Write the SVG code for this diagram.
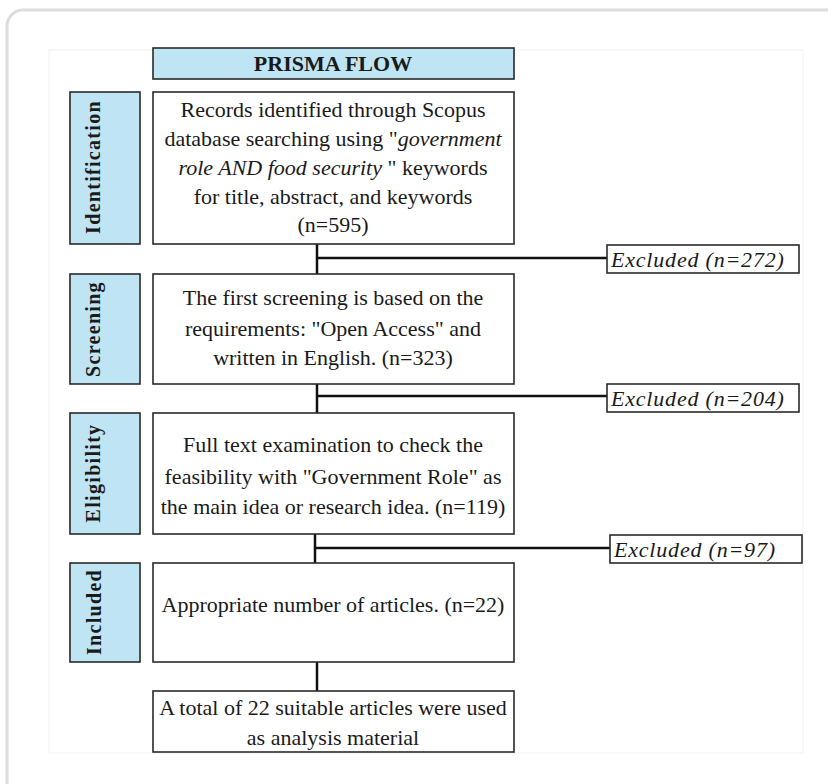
<svg xmlns="http://www.w3.org/2000/svg" width="828" height="784" viewBox="0 0 828 784">
<style>
.card{fill:#fff;stroke:#dcdcdc;stroke-width:3}
.frame{fill:none;stroke:#f2f2f2;stroke-width:1}
.box{fill:#fff;stroke:#2a2a2a;stroke-width:1.6}
.blue{fill:#bfe4f3;stroke:#2a2a2a;stroke-width:1.6}
.t{font-family:"Liberation Serif","Times New Roman",serif;font-size:22px;fill:#1a1a1a;text-anchor:middle}
.i{font-style:italic}
.side{font-family:"Liberation Serif","Times New Roman",serif;font-size:20px;font-weight:bold;fill:#1a1a1a;text-anchor:middle;letter-spacing:1.3px}
.ex{font-family:"Liberation Serif","Times New Roman",serif;font-size:22px;font-style:italic;fill:#1a1a1a;letter-spacing:0.8px}
.ln{stroke:#111;stroke-width:2.5;fill:none}
</style>
<rect class="card" x="7" y="10" width="860" height="800" rx="16"/>
<rect class="frame" x="49" y="50" width="754" height="703"/>
<g id="title">
<rect class="blue" x="153" y="48" width="361" height="31"/>
<text class="t" x="333" y="71" font-weight="bold">PRISMA FLOW</text>
</g>
<g id="side-identification">
<rect class="blue" x="70" y="92" width="70" height="152"/>
<text class="side" transform="translate(100,167) rotate(-90)">Identification</text>
</g>
<g id="side-screening">
<rect class="blue" x="70" y="274" width="70" height="110"/>
<text class="side" transform="translate(100,329) rotate(-90)">Screening</text>
</g>
<g id="side-eligibility">
<rect class="blue" x="70" y="413" width="70" height="121"/>
<text class="side" transform="translate(100,473) rotate(-90)">Eligibility</text>
</g>
<g id="side-included">
<rect class="blue" x="70" y="563" width="70" height="99"/>
<text class="side" transform="translate(101,612) rotate(-90)">Included</text>
</g>
<g id="connectors">
<path class="ln" d="M317,244 V274 M317,258 H607"/>
<path class="ln" d="M317,384 V413 M317,396 H607"/>
<path class="ln" d="M315,534 V563 M315,548 H610"/>
<path class="ln" d="M317,662 V691" stroke-width="3.5"/>
</g>
<g id="records">
<rect class="box" x="153" y="92" width="361" height="152"/>
<text class="t" x="333" y="117">Records identified through  Scopus</text>
<text class="t" x="333" y="146">database searching using "<tspan class="i">government</tspan></text>
<text class="t" x="333" y="175"><tspan class="i">role AND food security</tspan> " keywords</text>
<text class="t" x="333" y="204">for title, abstract, and keywords</text>
<text class="t" x="333" y="232">(n=595)</text>
</g>
<g id="screening">
<rect class="box" x="153" y="274" width="361" height="110"/>
<text class="t" x="333" y="305">The first screening is based on the</text>
<text class="t" x="333" y="336">requirements: "Open Access" and</text>
<text class="t" x="333" y="365">written in English. (n=323)</text>
</g>
<g id="eligibility">
<rect class="box" x="153" y="413" width="361" height="121"/>
<text class="t" x="333" y="452">Full text examination to check the</text>
<text class="t" x="333" y="484">feasibility with "Government Role" as</text>
<text class="t" x="333" y="514">the main idea or research idea. (n=119)</text>
</g>
<g id="included">
<rect class="box" x="153" y="563" width="361" height="99"/>
<text class="t" x="333" y="612">Appropriate number of articles. (n=22)</text>
</g>
<g id="final">
<rect class="box" x="153" y="691" width="361" height="61"/>
<text class="t" x="333" y="715">A total of 22 suitable articles were used</text>
<text class="t" x="333" y="745">as analysis material</text>
</g>
<g id="excluded1">
<rect class="box" x="607" y="245" width="192" height="28"/>
<text class="ex" x="611" y="267">Excluded (n=272)</text>
</g>
<g id="excluded2">
<rect class="box" x="607" y="384" width="192" height="28"/>
<text class="ex" x="611" y="406">Excluded (n=204)</text>
</g>
<g id="excluded3">
<rect class="box" x="610" y="535" width="192" height="28"/>
<text class="ex" x="614" y="557">Excluded (n=97)</text>
</g>
</svg>
